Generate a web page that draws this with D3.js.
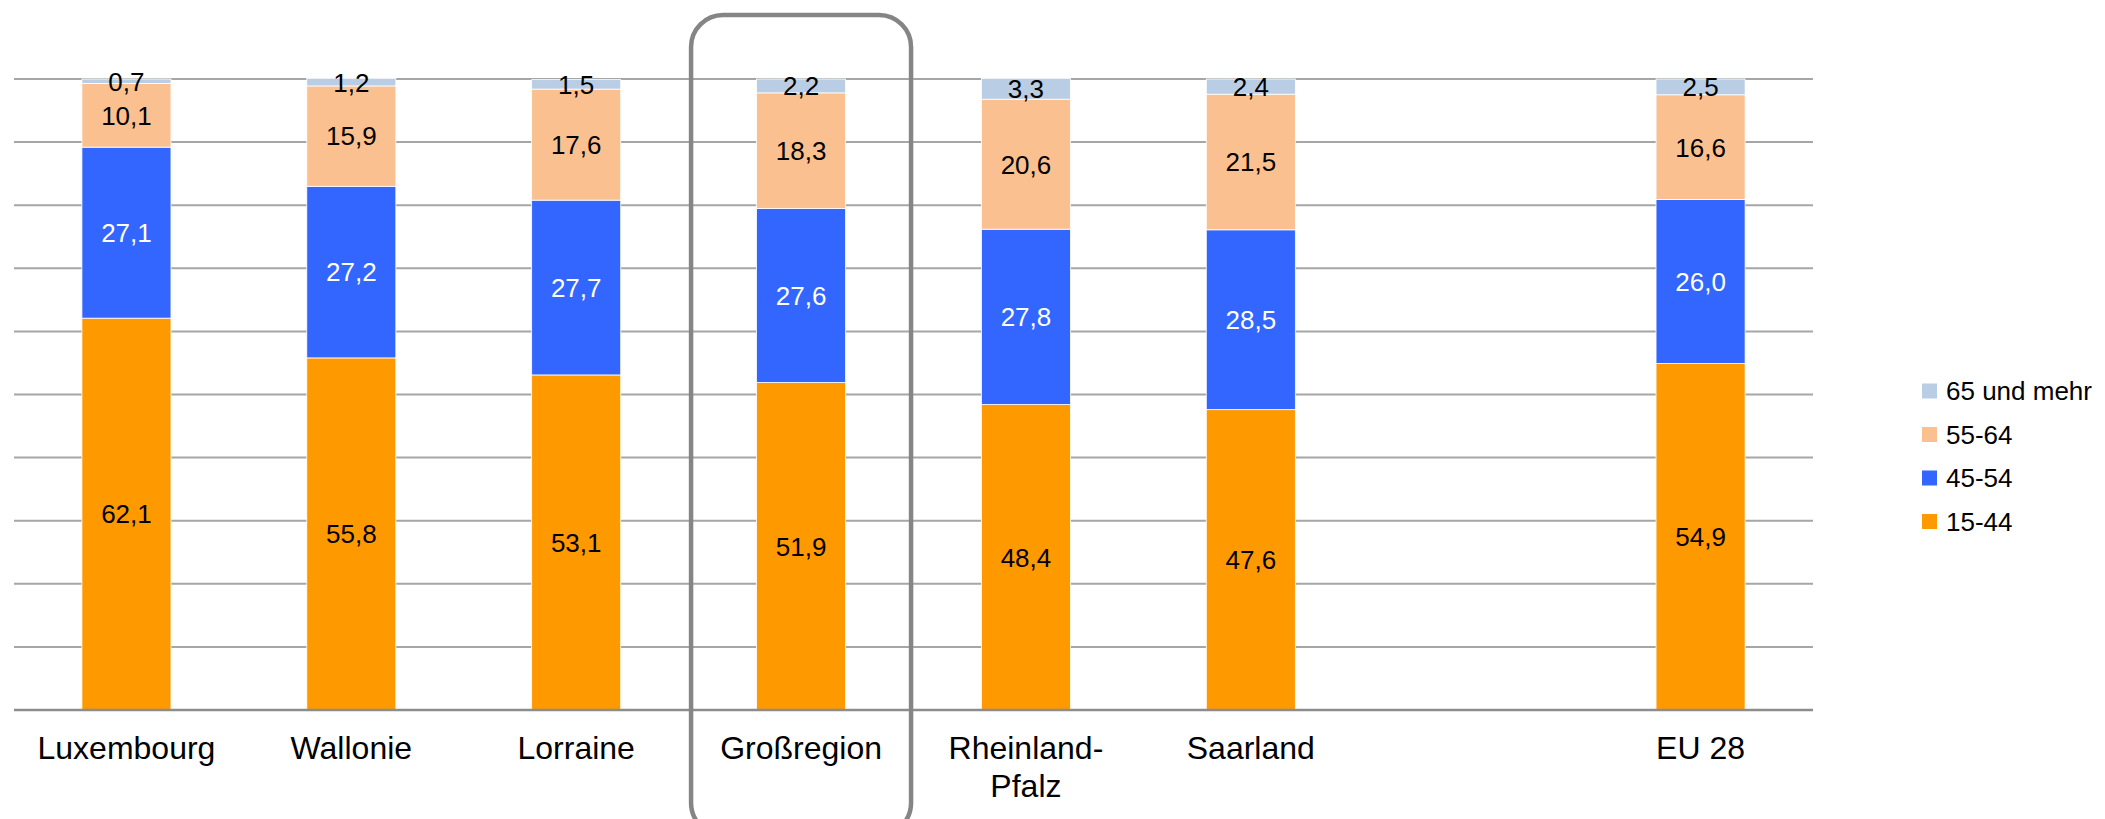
<!DOCTYPE html>
<head>
  <meta charset="utf-8">
  <script src="https://d3js.org/d3.v7.min.js"></script>
  <style>
  body { margin: 0; background: #fff; }
  text { font-family: "Liberation Sans", Arial, sans-serif; }
  .grid line { stroke: #a6a6a6; stroke-width: 2px; }
  </style>
</head>

<body>
  <script>
    // categories ("" = empty slot before EU 28)
    var slots = ["Luxembourg", "Wallonie", "Lorraine", "Großregion", "Rheinland-Pfalz", "Saarland", "", "EU 28"];
    var categories = ["Luxembourg", "Wallonie", "Lorraine", "Großregion", "Rheinland-Pfalz", "Saarland", "EU 28"];
    var labelLines = [["Luxembourg"], ["Wallonie"], ["Lorraine"], ["Großregion"], ["Rheinland-", "Pfalz"], ["Saarland"], ["EU 28"]];

    // series values (%)
    var age15_44 = [62.1, 55.8, 53.1, 51.9, 48.4, 47.6, 54.9];
    var age45_54 = [27.1, 27.2, 27.7, 27.6, 27.8, 28.5, 26.0];
    var age55_64 = [10.1, 15.9, 17.6, 18.3, 20.6, 21.5, 16.6];
    var age65plus = [0.7, 1.2, 1.5, 2.2, 3.3, 2.4, 2.5];

    var seriesNames = ["15-44", "45-54", "55-64", "65 und mehr"];
    var seriesValues = [age15_44, age45_54, age55_64, age65plus];
    var colors = ["#ff9900", "#3366ff", "#fac090", "#b9cde5"];
    var labelColors = ["#000", "#fff", "#000", "#000"];
    var gridTicks = [0, 10, 20, 30, 40, 50, 60, 70, 80, 90, 100];

    var width = 2105, height = 819;
    var plotLeft = 14, plotRight = 1813, plotTop = 79, plotBottom = 710;

    var svg = d3.select("body").append("svg")
        .attr("width", width)
        .attr("height", height);

    var x = d3.scaleBand()
        .domain(slots)
        .range([plotLeft, plotRight])
        .paddingInner(0.604)
        .paddingOuter(0.302);

    var y = d3.scaleLinear()
        .domain([0, 100])
        .range([plotBottom, plotTop]);

    // gridlines
    svg.append("g")
      .attr("class", "grid")
      .selectAll("line")
      .data(gridTicks.slice(1))
      .enter().append("line")
      .attr("x1", plotLeft).attr("x2", plotRight)
      .attr("y1", function(d) { return y(d); })
      .attr("y2", function(d) { return y(d); });

    // stack the data
    var rows = categories.map(function(c, i) {
      var r = {cat: c};
      seriesNames.forEach(function(s, j) { r[s] = seriesValues[j][i]; });
      return r;
    });
    var stacked = d3.stack().keys(seriesNames)(rows);

    var layers = svg.selectAll(".layer")
      .data(stacked)
      .enter().append("g")
      .attr("class", "layer")
      .attr("fill", function(d, i) { return colors[i]; });

    layers.selectAll("rect")
      .data(function(d) { return d; })
      .enter().append("rect")
      .attr("x", function(d) { return x(d.data.cat); })
      .attr("width", x.bandwidth())
      .attr("y", function(d) { return y(d[1]); })
      .attr("height", function(d) { return y(d[0]) - y(d[1]); })
      .attr("stroke", "#fff")
      .attr("stroke-width", 0.8);

    // value labels
    stacked.forEach(function(layer, i) {
      svg.append("g").selectAll("text")
        .data(layer)
        .enter().append("text")
        .attr("x", function(d) { return x(d.data.cat) + x.bandwidth() / 2; })
        .attr("y", function(d) { return y((d[0] + d[1]) / 2); })
        .attr("dy", "0.36em")
        .attr("text-anchor", "middle")
        .attr("font-size", "26px")
        .attr("fill", labelColors[i])
        .text(function(d) { return d3.format(".1f")(d[1] - d[0]).replace(".", ","); });
    });

    // x axis line
    svg.append("line")
      .attr("x1", plotLeft).attr("x2", plotRight)
      .attr("y1", y(0)).attr("y2", y(0))
      .attr("stroke", "#8c8c8c")
      .attr("stroke-width", 2.5);

    // category labels
    var catText = svg.append("g").selectAll("text")
      .data(categories)
      .enter().append("text")
      .attr("x", function(d) { return x(d) + x.bandwidth() / 2; })
      .attr("y", 759)
      .attr("text-anchor", "middle")
      .attr("font-size", "32px")
      .attr("fill", "#000");
    catText.each(function(d, i) {
      var t = d3.select(this);
      labelLines[i].forEach(function(line, k) {
        t.append("tspan")
          .attr("x", x(d) + x.bandwidth() / 2)
          .attr("dy", k === 0 ? 0 : 38)
          .text(line);
      });
    });

    // highlight box round Großregion
    var gx = x("Großregion") + x.bandwidth() / 2;
    svg.append("rect")
      .attr("x", gx - 110)
      .attr("y", 15)
      .attr("width", 220)
      .attr("height", 820)
      .attr("rx", 32).attr("ry", 32)
      .attr("fill", "none")
      .attr("stroke", "#858585")
      .attr("stroke-width", 4.5);

    // legend (reverse order)
    var legend = svg.append("g").attr("transform", "translate(1922,391)");
    var order = [3, 2, 1, 0];
    order.forEach(function(j, k) {
      var g = legend.append("g").attr("transform", "translate(0," + (k * 43.5) + ")");
      g.append("rect")
        .attr("x", 0).attr("y", -7.5)
        .attr("width", 15).attr("height", 15)
        .attr("fill", colors[j]);
      g.append("text")
        .attr("x", 24)
        .attr("dy", "0.36em")
        .attr("font-size", "26px")
        .attr("fill", "#000")
        .text(seriesNames[j]);
    });
  </script>
</body>
